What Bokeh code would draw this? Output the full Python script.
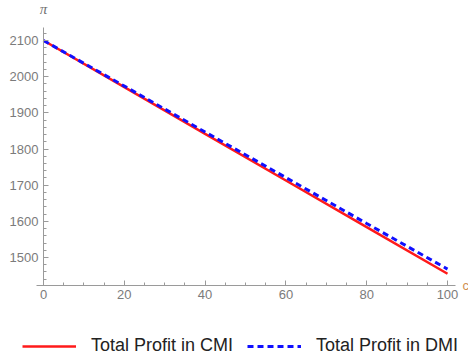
from bokeh.plotting import figure
from bokeh.models import (Range1d, SingleIntervalTicker, Legend, LegendItem, Label)
from bokeh.embed import file_html
from bokeh.resources import INLINE

# data
c_values = [0, 20, 40, 60, 80, 100]
profit_cmi = [2100, 1971, 1842, 1713, 1584, 1455]
profit_dmi = [2100, 1974, 1847, 1721, 1594, 1468]
x_axis_label = "c"
y_axis_label = "π"
series_names = ["Total Profit in CMI", "Total Profit in DMI"]

W, H = 468, 355
# pixel geometry of the reference plot area
PX_X0, PX_PER_X = 43.0, 4.04        # x = 0 at px 43, 100 at px 447
PY_2100, PY_PER_Y = 40.0, 0.36167   # y = 2100 at px 40, 1500 at px 257
x_start = -PX_X0 / PX_PER_X
x_end = (W - PX_X0) / PX_PER_X
y_end = 2100 + PY_2100 / PY_PER_Y
y_start = 2100 - (H - PY_2100) / PY_PER_Y

p = figure(width=W, height=H, output_backend="svg", toolbar_location=None,
           x_range=Range1d(x_start, x_end), y_range=Range1d(y_start, y_end),
           min_border=0)
p.grid.visible = False
p.outline_line_color = None
p.background_fill_color = "white"
p.border_fill_color = "white"

axis_col = "#9a9a9a"
lab_col = "#7b7b7b"
for ax in (p.xaxis[0], p.yaxis[0]):
    ax.axis_line_color = axis_col
    ax.major_tick_line_color = axis_col
    ax.minor_tick_line_color = axis_col
    ax.major_tick_in = 5
    ax.major_tick_out = 0
    ax.minor_tick_in = 3
    ax.minor_tick_out = 0
    ax.major_label_text_color = lab_col
    ax.major_label_text_font = "Liberation Sans"
    ax.major_label_text_font_size = "13px"
    ax.major_label_standoff = 5

p.xaxis[0].ticker = SingleIntervalTicker(interval=20, num_minor_ticks=4)
p.yaxis[0].ticker = SingleIntervalTicker(interval=100, num_minor_ticks=5)
p.xaxis[0].fixed_location = 1423
p.yaxis[0].fixed_location = 0
p.xaxis[0].bounds = (-1.7, 101.98)
p.yaxis[0].bounds = (1423, 2136)

r_cmi = p.line(c_values, profit_cmi, line_color="#ff1a1a", line_width=2.5)
r_dmi = p.line(c_values, profit_dmi, line_color="#1010ff", line_width=3,
               line_dash="6 4")

p.add_layout(Label(x=0, y=2186, text=y_axis_label, text_align="center",
                   text_baseline="middle", text_color="#707070",
                   text_font="Liberation Serif", text_font_style="italic",
                   text_font_size="15px"))
p.add_layout(Label(x=103.7, y=1423, text=x_axis_label, text_align="left",
                   text_baseline="middle", text_color="#d09050",
                   text_font="Liberation Sans", text_font_size="13px"))

legend = Legend(items=[LegendItem(label=series_names[0], renderers=[r_cmi]),
                       LegendItem(label=series_names[1], renderers=[r_dmi])],
                orientation="horizontal", location=(22, -1),
                glyph_width=54, glyph_height=16, label_standoff=15, spacing=14,
                padding=0, margin=0, border_line_color=None,
                background_fill_alpha=0,
                label_text_font="Liberation Sans", label_text_font_size="18px",
                label_text_color="#222222")
p.add_layout(legend, "center")

open("out.html", "w").write(file_html(p, INLINE))
